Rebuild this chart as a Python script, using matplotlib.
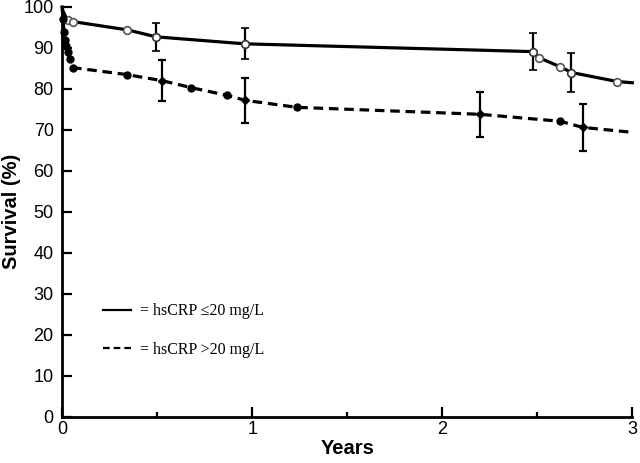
import matplotlib
matplotlib.use("Agg")
import matplotlib.pyplot as plt
import numpy as np

# ── data ──────────────────────────────────────────────────────────────────
low_t = [0, 0.005, 0.01, 0.02, 0.03, 0.06, 0.344, 0.495, 0.96, 2.477, 2.51, 2.62, 2.68, 2.92, 3.0]
low_s = [100, 99.0, 98.5, 97.5, 96.8, 96.4, 94.4, 92.7, 91.0, 89.1, 87.6, 85.4, 84.0, 81.8, 81.5]
low_mk_t = [0.03, 0.06, 0.344, 2.51, 2.62, 2.92]
low_mk_s = [96.8, 96.4, 94.4, 87.6, 85.4, 81.8]
low_eb_t = [0.495, 0.96, 2.477, 2.68]
low_eb_s = [92.7, 91.0, 89.1, 84.0]
low_eb_e = [3.5, 3.8, 4.6, 4.8]

high_t = [0, 0.005, 0.01, 0.015, 0.02, 0.03, 0.04, 0.055, 0.34, 0.527, 0.68,
          0.87, 0.964, 1.236, 2.2, 2.62, 2.74, 3.0]
high_s = [100, 97.0, 94.0, 92.0, 90.5, 89.0, 87.2, 85.2, 83.5, 82.0, 80.3,
          78.4, 77.2, 75.5, 73.8, 72.1, 70.6, 69.4]
high_mk_t = [0.005, 0.01, 0.015, 0.02, 0.03, 0.04, 0.055, 0.34, 0.68, 0.87, 1.236, 2.62]
high_mk_s = [97.0, 94.0, 92.0, 90.5, 89.0, 87.2, 85.2, 83.5, 80.3, 78.4, 75.5, 72.1]
high_eb_t = [0.527, 0.964, 2.2, 2.74]
high_eb_s = [82.0, 77.2, 73.8, 70.6]
high_eb_e = [5.0, 5.5, 5.5, 5.7]

x_ticks = [0, 1, 2, 3]
y_ticks = list(range(0, 101, 10))

plt.rcParams.update({
  "font.family": ["Liberation Sans", "DejaVu Sans"],
  "axes.linewidth": 2.0,
})

fig = plt.figure(figsize=(6.4, 4.63), dpi=100)
ax = fig.add_axes([0.097, 0.1, 0.891, 0.885])

lw = 2.3
ax.plot(low_t, low_s, "-", color="black", lw=lw, clip_on=False,
        label="= hsCRP \u226420 mg/L")
ax.plot(low_mk_t, low_mk_s, "o", ms=5.5, mfc="white", mec="#555555", mew=1.2,
        clip_on=False, zorder=4)
ax.errorbar(low_eb_t, low_eb_s, yerr=low_eb_e, fmt="o", ms=5.5, mfc="white",
            mec="#333333", mew=1.2, ecolor="black", elinewidth=1.6,
            capsize=3, capthick=1.6, zorder=5)

ax.plot(high_t, high_s, "--", color="black", lw=lw, dashes=(3.0, 1.8),
        clip_on=False, label="= hsCRP >20 mg/L")
ax.plot(high_mk_t, high_mk_s, "o", ms=5, color="black", clip_on=False, zorder=4)
ax.errorbar(high_eb_t, high_eb_s, yerr=high_eb_e, fmt="D", ms=4.5, color="black",
            ecolor="black", elinewidth=1.6, capsize=3, capthick=1.6, zorder=5)

ax.set_xlim(0, 3)
ax.set_ylim(0, 100)
ax.set_xticks(x_ticks)
ax.set_xticks([0.5, 1.5, 2.5], minor=True)
ax.set_yticks(y_ticks)
ax.spines["top"].set_visible(False)
ax.spines["right"].set_visible(False)
ax.tick_params(axis="both", which="major", direction="in", length=7, width=1.6,
               labelsize=13)
ax.tick_params(axis="y", which="major", pad=6)
ax.tick_params(axis="x", which="major", pad=3)
ax.tick_params(axis="x", which="minor", direction="in", length=3.5, width=1.6)

ax.set_xlabel("Years", fontsize=14.5, fontweight="bold", labelpad=1)
ax.set_ylabel("Survival (%)", fontsize=14.5, fontweight="bold", labelpad=2)

leg = ax.legend(loc="center left", bbox_to_anchor=(0.071, 0.21),
                frameon=False, borderpad=0, borderaxespad=0,
                handlelength=1.8, handletextpad=0.55, labelspacing=1.4,
                prop={"family": ["Liberation Serif", "DejaVu Serif"], "size": 11.5})
for line in leg.get_lines():
  line.set_linewidth(1.6)

fig.savefig("out.png", dpi=100)
